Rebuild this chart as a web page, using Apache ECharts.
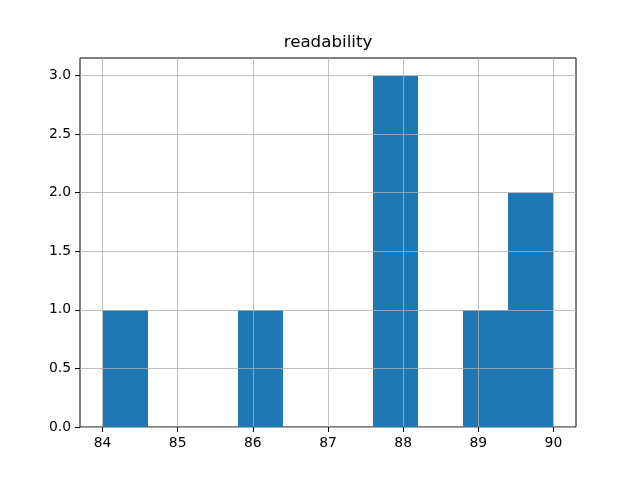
<!DOCTYPE html>
<html>
<head>
<meta charset="utf-8">
<script src="https://cdn.jsdelivr.net/npm/echarts@6/dist/echarts.min.js"></script>
<style>html,body{margin:0;padding:0;background:#fff}#c{width:640px;height:480px}</style>
</head>
<body>
<div id="c"></div>
<script>
const titleText = 'readability';
const binEdges = [84.0, 84.6, 85.2, 85.8, 86.4, 87.0, 87.6, 88.2, 88.8, 89.4, 90.0];
const counts = [1, 0, 0, 1, 0, 0, 3, 0, 1, 2];
const xTicks = [84, 85, 86, 87, 88, 89, 90];
const yTicks = [0, 0.5, 1.0, 1.5, 2.0, 2.5, 3.0];

const bins = counts.map((c, i) => [binEdges[i], binEdges[i + 1], c]);
const chart = echarts.init(document.getElementById('c'), null, {renderer: 'canvas'});
const font = 'DejaVu Sans';
chart.setOption({
  animation: false,
  backgroundColor: '#fff',
  graphic: [{
    type: 'text', x: 328, y: 43, silent: true,
    style: {text: titleText, align: 'center', verticalAlign: 'middle', fontFamily: font, fontSize: 16.7, fill: '#000'}
  }],
  grid: {left: 80, right: 64, top: 58, bottom: 53, show: true, borderColor: '#000', borderWidth: 1, backgroundColor: 'transparent'},
  xAxis: {
    type: 'value', min: 83.7, max: 90.3, z: 5,
    axisLine: {show: false},
    axisTick: {show: true, length: 5, lineStyle: {color: '#000'}, customValues: xTicks},
    axisLabel: {show: true, margin: 9, color: '#000', fontFamily: font, fontSize: 13.9, customValues: xTicks, formatter: v => String(v)},
    splitLine: {show: true, lineStyle: {color: '#b0b0b0', width: 0.8}}
  },
  yAxis: {
    type: 'value', min: 0, max: 3.15, z: 5,
    axisLine: {show: false},
    axisTick: {show: true, length: 5, lineStyle: {color: '#000'}, customValues: yTicks},
    axisLabel: {show: true, margin: 9, color: '#000', fontFamily: font, fontSize: 13.9, customValues: yTicks, formatter: v => v.toFixed(1)},
    splitLine: {show: true, lineStyle: {color: '#b0b0b0', width: 0.8}}
  },
  series: [{
    type: 'custom',
    z: 2,
    data: bins,
    renderItem: function (params, api) {
      const p0 = api.coord([api.value(0), 0]);
      const p1 = api.coord([api.value(1), api.value(2)]);
      const x0 = Math.round(p0[0]), x1 = Math.round(p1[0]);
      const y0 = Math.round(p0[1]), y1 = Math.round(p1[1]);
      return {
        type: 'rect',
        shape: {x: x0, y: y1, width: x1 - x0, height: y0 - y1},
        style: {fill: '#1f77b4'}
      };
    },
    encode: {x: [0, 1], y: 2}
  }]
});
</script>
</body>
</html>
